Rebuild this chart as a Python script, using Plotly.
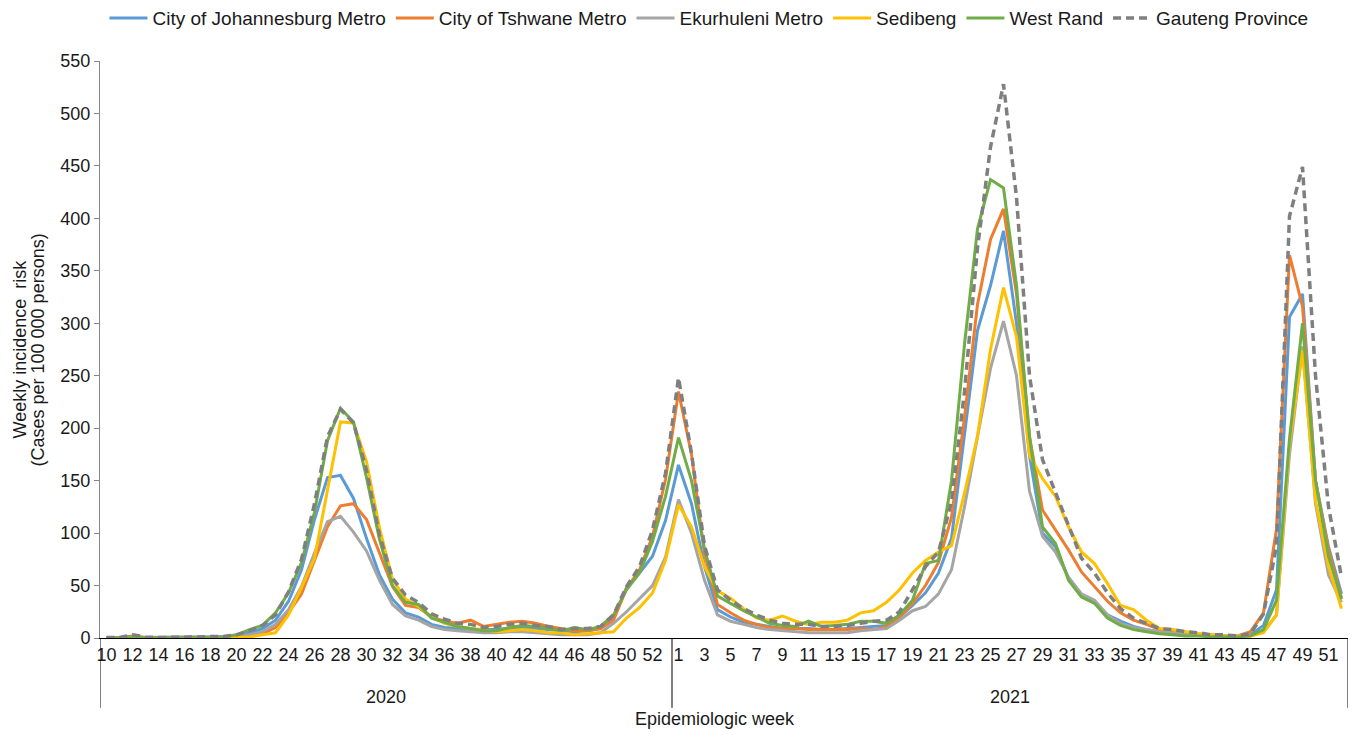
import plotly.graph_objects as go

# ---- data -------------------------------------------------------------
years = [2020] * 44 + [2021] * 52
weeks = list(range(10, 54)) + list(range(1, 53))

johannesburg = [0, 0.3, 1, 0.5, 0.5, 0.5, 0.8, 1, 1, 1.5, 2.5, 5, 9, 17, 35, 65, 113, 153, 155, 133,
                95, 60, 37, 24, 20, 13, 10, 9, 8, 8, 8, 9, 10, 9, 8, 7, 6, 7, 9, 19, 48, 62, 78, 112,
                165, 128, 68, 27, 20, 15, 13, 11, 9, 9, 9, 8, 8, 9, 10, 11, 12, 20, 31, 43, 62, 95,
                192, 293, 336, 388, 300, 174, 100, 87, 57, 41, 34, 22, 16, 11, 8, 6, 5, 4, 3, 2, 2, 2,
                3, 12, 46, 306, 328, 150, 87, 42]
tshwane = [0, 0.3, 2, 0.5, 0.5, 0.5, 0.5, 0.5, 1, 1, 1, 2, 4, 10, 24, 42, 75, 106, 126, 128,
           113, 81, 49, 31, 29, 20, 16, 14, 17, 11, 13, 15, 16, 14, 11, 9, 7, 7, 9, 17, 47, 65, 97, 151,
           235, 175, 80, 32, 24, 17, 13, 10, 9, 9, 8, 8, 8, 8, 9, 8, 11, 20, 33, 50, 72, 115,
           210, 318, 380, 409, 328, 192, 122, 103, 84, 63, 49, 35, 24, 17, 13, 8, 6, 5, 4, 3, 2, 2,
           6, 24, 104, 365, 316, 150, 84, 38]
ekurhuleni = [0, 0.2, 0.8, 0.3, 0.3, 0.3, 0.5, 0.5, 0.5, 0.8, 1, 3, 6, 13, 27, 49, 81, 111, 116, 101,
              83, 55, 32, 21, 17, 11, 8, 7, 6, 5, 5, 6, 6, 5, 4, 3, 3, 3, 5, 14, 25, 37, 50, 77,
              132, 100, 55, 22, 16, 13, 10, 8, 7, 6, 5, 5, 5, 5, 7, 8, 9, 17, 26, 30, 42, 65,
              125, 192, 257, 302, 250, 140, 97, 82, 58, 42, 36, 22, 14, 10, 8, 6, 5, 4, 3, 2, 2, 2,
              2, 6, 22, 175, 278, 128, 60, 34]
sedibeng = [0, 0.1, 0.5, 0.2, 0.2, 0.2, 0.3, 0.3, 0.3, 0.4, 0.5, 1, 3, 5, 22, 48, 76, 141, 206, 205,
            168, 105, 56, 37, 30, 20, 14, 11, 9, 8, 6, 7, 8, 7, 5, 5, 3, 4, 5, 6, 19, 29, 43, 74,
            127, 106, 68, 45, 38, 28, 19, 17, 21, 16, 13, 15, 15, 17, 24, 26, 34, 46, 62, 74, 82, 88,
            138, 192, 275, 334, 287, 174, 152, 135, 106, 82, 71, 52, 31, 27, 17, 9, 8, 6, 4, 3, 2, 2,
            2, 5, 22, 185, 274, 131, 68, 28]
west_rand = [0, 0.3, 1, 0.5, 0.5, 0.5, 0.7, 0.8, 1, 1, 3, 8, 12, 24, 43, 72, 120, 188, 219, 206,
             153, 94, 50, 34, 32, 19, 15, 11, 9, 7, 7, 10, 12, 11, 9, 7, 10, 8, 11, 22, 46, 62, 92, 135,
             191, 150, 85, 40, 33, 26, 20, 14, 12, 11, 16, 11, 12, 13, 16, 16, 14, 22, 36, 71, 74, 150,
             280, 390, 437, 429, 336, 192, 106, 90, 55, 39, 33, 19, 12, 8, 6, 4, 3, 2, 2, 1, 1, 1,
             2, 8, 36, 190, 300, 150, 78, 37]
gauteng = [0.5, 0.5, 3, 1, 0.5, 0.5, 1, 1, 1.5, 1.5, 3, 7, 12, 22, 44, 75, 128, 192, 218, 205,
           160, 98, 57, 41, 34, 23, 18, 14, 13, 10, 11, 13, 14, 12, 11, 8, 9, 9, 11, 22, 49, 68, 103, 157,
           248, 176, 88, 46, 36, 28, 22, 17, 14, 13, 13, 11, 11, 12, 14, 16, 17, 25, 46, 68, 82, 130,
           235, 372, 468, 528, 420, 250, 170, 138, 106, 76, 62, 43, 28, 19, 14, 9, 8, 6, 5, 3, 3, 2,
           4, 23, 88, 402, 449, 250, 125, 58]

series_names = ["City of Johannesburg Metro", "City of Tshwane Metro", "Ekurhuleni Metro",
                "Sedibeng", "West Rand", "Gauteng Province"]
series_values = [johannesburg, tshwane, ekurhuleni, sedibeng, west_rand, gauteng]
series_colors = ["#5B9BD5", "#ED7D31", "#A5A5A5", "#FFC000", "#70AD47", "#7F7F7F"]

y_ticks = list(range(0, 551, 50))
y_title_lines = ["Weekly incidence\u00a0 risk", "(Cases per 100 000 persons)"]

# ---- figure -----------------------------------------------------------
FONT = "Liberation Sans, Arial, sans-serif"
cats = [f"{y}-{w}" for y, w in zip(years, weeks)]

fig = go.Figure()
for name, vals, col in zip(series_names, series_values, series_colors):
    dashed = name == "Gauteng Province"
    fig.add_trace(go.Scatter(
        x=cats, y=vals, name=name, mode="lines",
        line=dict(color=col, width=3.5 if dashed else 3,
                  dash="8px,5px" if dashed else "solid"),
    ))

tickvals = cats[::2]
ticktext = [str(w) for w in weeks[::2]]

# page body has an 8px default margin -> figure is 8px smaller and offset
fig.update_layout(
    width=1348, height=727,
    margin=dict(l=92, r=8, t=53, b=97),
    paper_bgcolor="white", plot_bgcolor="white",
    font=dict(family=FONT, size=18, color="#1a1a1a"),
    showlegend=True,
    legend=dict(orientation="h", xref="container", yref="container",
                x=0.52, y=0.986, xanchor="center", yanchor="middle",
                font=dict(size=19), itemwidth=38, tracegroupgap=0),
    xaxis=dict(type="category", categoryorder="array", categoryarray=cats,
               range=[-0.5, len(cats) - 0.5],
               tickmode="array", tickvals=tickvals, ticktext=ticktext,
               tickangle=0, showgrid=False, zeroline=False,
               showline=True, linecolor="black", linewidth=1,
               ticks="", tickfont=dict(size=18)),
    yaxis=dict(range=[0, 550], tickvals=y_ticks, showgrid=False, zeroline=False,
               showline=True, linecolor="#868686", linewidth=1,
               ticks="outside", ticklen=5, tickcolor="#868686",
               tickfont=dict(size=18)),
)

# year group dividers (multi-level category axis look)
n2020 = years.count(2020)
for xpos in [-0.5, n2020 - 0.5, len(cats) - 0.5]:
    fig.add_shape(type="line", xref="x", yref="paper", x0=xpos, x1=xpos,
                  y0=0, y1=-0.121, line=dict(color="black", width=1))

for yr, center in [(2020, (n2020 - 1) / 2), (2021, (n2020 + len(cats) - 1) / 2)]:
    fig.add_annotation(x=center, y=-0.102, xref="x", yref="paper", text=str(yr),
                       showarrow=False, font=dict(size=18), yanchor="middle")

fig.add_annotation(x=0.493, y=-0.141, xref="paper", yref="paper",
                   text="Epidemiologic week", showarrow=False,
                   font=dict(size=18), yanchor="middle")

# y-axis title, two lines (centres at page x ~19 and ~38)
for line_text, xc in zip(y_title_lines, [-0.0649, -0.0497]):
    fig.add_annotation(x=xc, y=0.5, xref="paper", yref="paper", text=line_text,
                       textangle=-90, showarrow=False, font=dict(size=18),
                       xanchor="center", yanchor="middle")

fig.write_html("out.html")
